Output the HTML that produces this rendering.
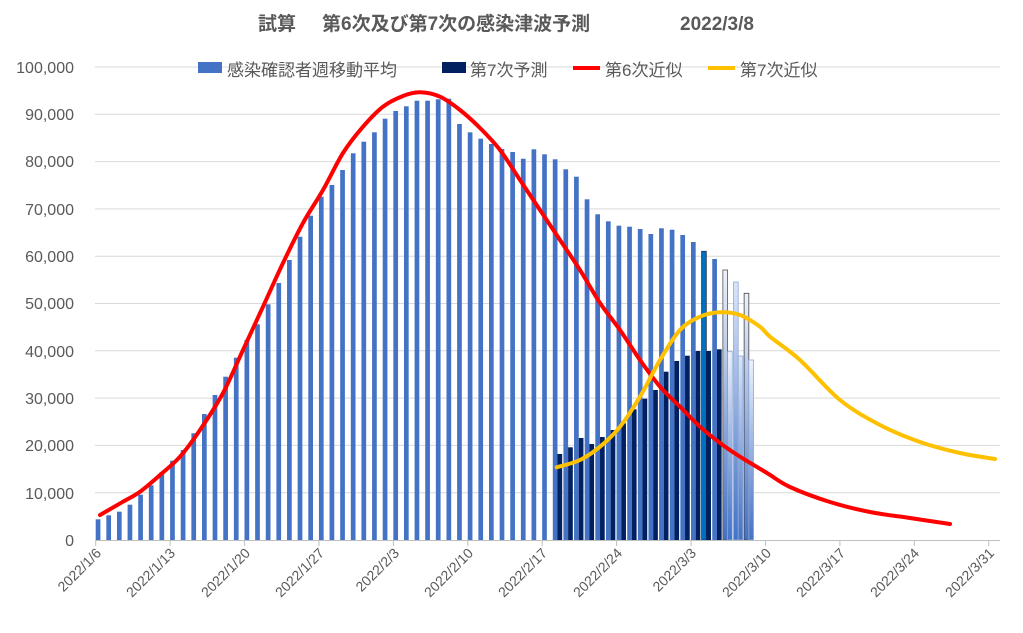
<!DOCTYPE html>
<html><head><meta charset="utf-8"><style>
html,body{margin:0;padding:0;background:#fff;}
svg{display:block;font-family:"Liberation Sans","Noto Sans CJK JP",sans-serif;}
</style></head><body>
<svg id="s" width="1023" height="633" viewBox="0 0 1023 633" xmlns="http://www.w3.org/2000/svg">
<defs>
<linearGradient id="g1" x1="0" y1="0" x2="0" y2="1"><stop offset="0" stop-color="#eef2fa"/><stop offset="1" stop-color="#4472c4"/></linearGradient>
<linearGradient id="g2" x1="0" y1="0" x2="0" y2="1"><stop offset="0" stop-color="#dbe5f7"/><stop offset="1" stop-color="#4472c4"/></linearGradient>
</defs>
<g id="grid" stroke="#d9d9d9" stroke-width="1"></g>
<g id="bars"></g>
<line x1="95" y1="540.5" x2="1000" y2="540.5" stroke="#bfbfbf"/>
<g id="ticks" stroke="#bfbfbf"></g>
<path id="red" fill="none" stroke="#ff0000" stroke-width="4" stroke-linejoin="round" stroke-linecap="round"/>
<path id="yel" fill="none" stroke="#ffc000" stroke-width="4" stroke-linejoin="round" stroke-linecap="round"/>
<g font-size="19" font-weight="bold" fill="#595959">
<text x="258" y="30">試算</text>
<text x="322" y="30">第6次及び第7次の感染津波予測</text>
<text x="680" y="30">2022/3/8</text>
</g>
<g font-size="16" fill="#595959" text-anchor="end">
<text x="74" y="546">0</text><text x="74" y="499">10,000</text><text x="74" y="451">20,000</text><text x="74" y="404">30,000</text><text x="74" y="357">40,000</text><text x="74" y="309">50,000</text><text x="74" y="262">60,000</text><text x="74" y="215">70,000</text><text x="74" y="167">80,000</text><text x="74" y="120">90,000</text><text x="74" y="73">100,000</text>
</g>
<g font-size="17" fill="#595959">
<rect x="198" y="62" width="24" height="11" fill="#4472c4"/><text x="227" y="76">感染確認者週移動平均</text>
<rect x="442" y="62" width="24" height="11" fill="#002060"/><text x="470" y="76">第7次予測</text>
<line x1="573" y1="68" x2="600" y2="68" stroke="#ff0000" stroke-width="4"/><text x="605" y="76">第6次近似</text>
<line x1="708" y1="68" x2="735" y2="68" stroke="#ffc000" stroke-width="4"/><text x="740" y="76">第7次近似</text>
</g>
<g font-size="14" fill="#595959" text-anchor="end">
<text transform="translate(102,554) rotate(-45)">2022/1/6</text>
<text transform="translate(176,554) rotate(-45)">2022/1/13</text>
<text transform="translate(251,554) rotate(-45)">2022/1/20</text>
<text transform="translate(325,554) rotate(-45)">2022/1/27</text>
<text transform="translate(400,554) rotate(-45)">2022/2/3</text>
<text transform="translate(474,554) rotate(-45)">2022/2/10</text>
<text transform="translate(548,554) rotate(-45)">2022/2/17</text>
<text transform="translate(623,554) rotate(-45)">2022/2/24</text>
<text transform="translate(697,554) rotate(-45)">2022/3/3</text>
<text transform="translate(772,554) rotate(-45)">2022/3/10</text>
<text transform="translate(846,554) rotate(-45)">2022/3/17</text>
<text transform="translate(920,554) rotate(-45)">2022/3/24</text>
<text transform="translate(995,554) rotate(-45)">2022/3/31</text>
</g>
</svg>
<script>
var NS="http://www.w3.org/2000/svg";
function el(p,t,a){var e=document.createElementNS(NS,t);for(var k in a)e.setAttribute(k,a[k]);document.getElementById(p).appendChild(e);return e;}
for(var i=1;i<=10;i++){var y=540-i*47.3;el("grid","line",{x1:95,x2:1000,y1:y,y2:y});}
for(var k=0;k<13;k++){var x=95.7+k*74.42;el("ticks","line",{x1:x,x2:x,y1:540,y2:546});}
var main=[519.3,515.3,511.7,504.7,494.7,485.3,472.3,460.7,450,433.3,414,395,376.7,357.7,340,324.3,304.3,283,260,236.7,215.7,196.7,185,170,153.3,141.7,132.3,118.7,111,106.3,100.7,100.7,99.3,98.7,124,132.3,138.7,144,149,152,158.7,149.3,154.3,159.3,169.3,176.7,199.3,214.3,221.3,225.7,226.7,229,234,228.3,229.7,235,242,251.3,259,270,282,293.3];
var W=10.63,bw=4.7,x0=95.7;
main.forEach(function(t,i){var x=x0+i*W;var a={x:x,y:t,width:bw,height:540-t,fill:"#4472c4"};
 if(i==57){a.fill="#0070c0";a.stroke="#1f3050";a["stroke-width"]=0.8;}
 if(i==59){a.fill="url(#g1)";a.stroke="#555";a["stroke-width"]=0.8;}
 if(i==60){a.fill="url(#g2)";a.stroke="#8eaadb";a["stroke-width"]=0.8;}
 if(i==61){a.fill="url(#g1)";a.stroke="#444";a["stroke-width"]=0.8;}
 el("bars","rect",a);});
var fc={43:454,44:447.3,45:438,46:444,47:437,48:430,49:423.3,50:409.3,51:398.7,52:390,53:371.7,54:361,55:355.7,56:351,57:351,58:349.3,59:351.7,60:356,61:360};
for(var d in fc){var i=+d,t=fc[d];var a={x:x0+i*W+bw,y:t,width:bw,height:540-t,fill:"#002060"};
 if(i>=59){a.fill=i==60?"url(#g2)":"url(#g1)";a.stroke="#8eaadb";a["stroke-width"]=0.8;}
 el("bars","rect",a);}
function smooth(p){var d="M"+p[0][0]+","+p[0][1];for(var i=0;i<p.length-1;i++){var a=p[i-1]||p[i],b=p[i],c=p[i+1],e=p[i+2]||c;
 d+=" C"+(b[0]+(c[0]-a[0])/6)+","+(b[1]+(c[1]-a[1])/6)+" "+(c[0]-(e[0]-b[0])/6)+","+(c[1]-(e[1]-b[1])/6)+" "+c[0]+","+c[1];}return d;}
var red=[[100,515],[123,501.7],[140,491.7],[160,475],[180,456.7],[200,430],[223,393],[243,350],[263,306.7],[283,263],[303,223],[323,190],[343,153],[363,126.7],[383,106.7],[403,96],[420,92.3],[440,96.7],[460,110],[480,128],[500,150],[520,180],[540,210],[560,240],[580,270],[600,303],[620,330],[640,360],[660,386.7],[680,406.7],[700,426.7],[720,443],[740,456.7],[767,473],[790,487],[830,502],[870,512],[910,518],[950,524]];
var yel=[[556.7,467.3],[580,460],[600,446.7],[620,426.7],[640,396.7],[660,360],[680,330],[700,316.7],[720,312.3],[740,315],[760,326.7],[770,336.7],[800,360],[840,400],[880,425],[920,442],[960,453],[995,459]];
document.getElementById("red").setAttribute("d",smooth(red));
document.getElementById("yel").setAttribute("d",smooth(yel));
</script>
</body></html>
